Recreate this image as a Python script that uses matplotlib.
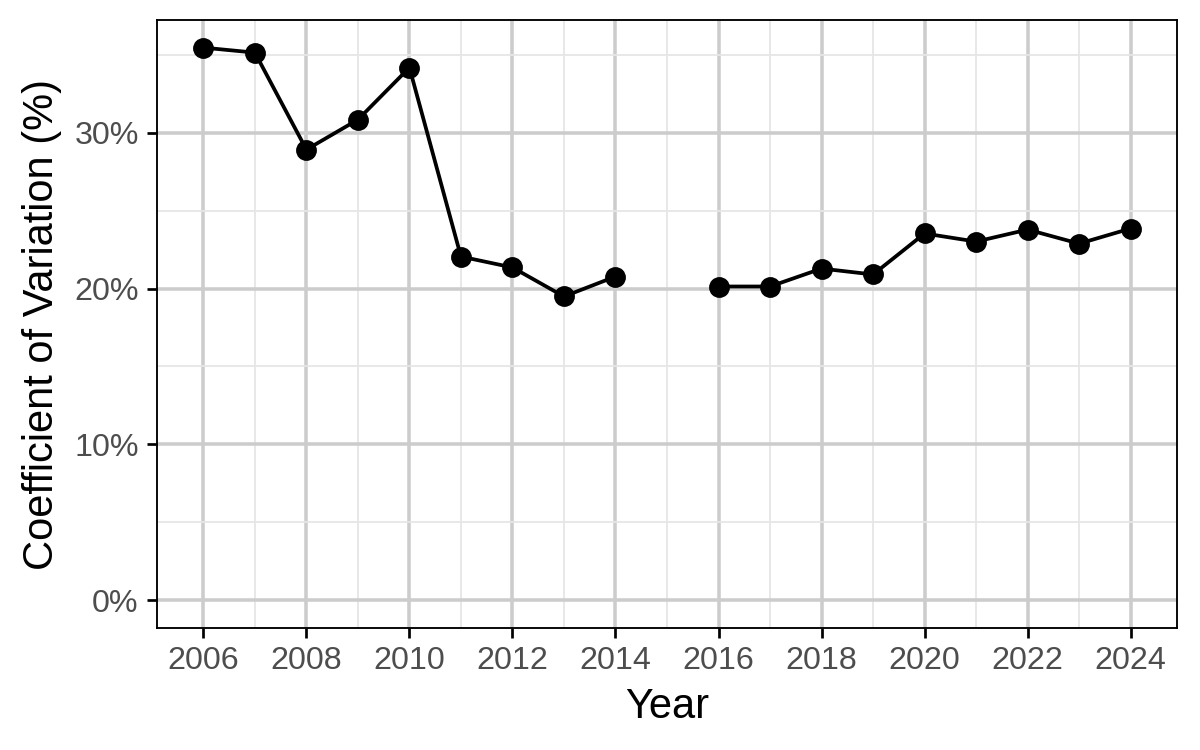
import numpy as np
import matplotlib
matplotlib.use("Agg")
import matplotlib.pyplot as plt
from matplotlib.ticker import FuncFormatter

years = [2006, 2007, 2008, 2009, 2010, 2011, 2012, 2013, 2014, 2015,
         2016, 2017, 2018, 2019, 2020, 2021, 2022, 2023, 2024]
cv = [35.45, 35.13, 28.91, 30.83, 34.17, 22.05, 21.35, 19.49, 20.77, np.nan,
      20.13, 20.13, 21.28, 20.90, 23.53, 23.01, 23.78, 22.88, 23.85]
x_ticks = [2006, 2008, 2010, 2012, 2014, 2016, 2018, 2020, 2022, 2024]
y_ticks = [0, 10, 20, 30]

plt.rcParams['font.family'] = ['Liberation Sans', 'DejaVu Sans']

fig = plt.figure(figsize=(8, 5), dpi=150)
ax = fig.add_axes([157/1200, 1-628/750, (1177-157)/1200, (628-20)/750])

ax.plot(years, cv, color='black', lw=1.8, marker='o', markersize=9, zorder=3)

ax.set_xlim(2005.1, 2024.9)
ymax = np.nanmax(cv)
ax.set_ylim(-0.05*ymax, ymax*1.05)

ax.set_xticks(x_ticks)
ax.set_xticks([y for y in range(2007, 2024, 2)], minor=True)
ax.set_yticks(y_ticks)
ax.set_yticks([5, 15, 25, 35], minor=True)
ax.yaxis.set_major_formatter(FuncFormatter(lambda v, p: f"{v:.0f}%"))

ax.grid(which='major', color='#CCCCCC', lw=1.7, zorder=0)
ax.grid(which='minor', color='#E6E6E6', lw=0.85, zorder=0)
ax.set_axisbelow(True)

ax.tick_params(which='major', length=4.8, width=1.3, color='black',
               labelsize=15.5, labelcolor='#4D4D4D', pad=4)
ax.tick_params(which='minor', length=0)
for s in ax.spines.values():
    s.set_linewidth(0.9)
    s.set_color('black')

ax.set_xlabel('Year', fontsize=20, labelpad=5)
ax.set_ylabel('Coefficient of Variation (%)', fontsize=20, labelpad=6)

fig.savefig('out.png', dpi=150)
